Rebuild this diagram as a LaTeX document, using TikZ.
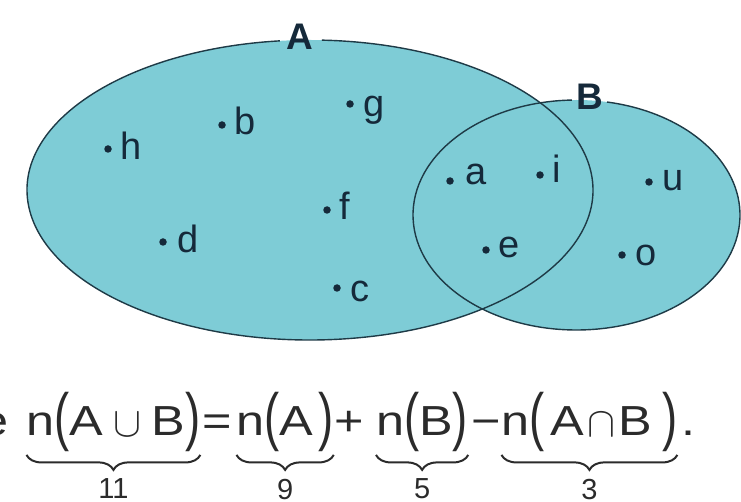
\documentclass[tikz,border=0pt]{standalone}
\usepackage{fontspec}
\setmainfont{Liberation Sans}
\newfontfamily\eqfont[FakeStretch=1.2]{Liberation Sans}
\usepackage{graphicx}
\usetikzlibrary{decorations.pathreplacing}

\definecolor{setfill}{HTML}{7ECCD6}
\definecolor{setline}{HTML}{1E3A46}
\definecolor{dotink}{HTML}{15293A}
\definecolor{eqink}{HTML}{2B2B2B}

\newcommand{\lpar}{\raisebox{-3.5pt}{\scalebox{0.9}[1.52]{(}}}
\newcommand{\rpar}{\raisebox{-3.5pt}{\scalebox{0.9}[1.52]{)}}}
\newcommand{\cupsym}{\raisebox{-1pt}{\scalebox{4.2}{\normalsize$\cup$}}}
\newcommand{\capsym}{\raisebox{-1pt}{\scalebox{4.2}{\normalsize$\cap$}}}

\begin{document}
\begin{tikzpicture}[
  x=1pt,
  y=1pt,
  setedge/.style={draw=setline, line width=1.4pt},
  setname/.style={font=\fontsize{37}{40}\selectfont\bfseries, text=dotink, inner sep=0, anchor=base},
  pt/.style={circle, fill=dotink, inner sep=0, minimum size=7.5pt},
  lbl/.style={font=\fontsize{38}{40}\selectfont, text=dotink, inner sep=0, anchor=base west},
  term/.style={font=\eqfont\fontsize{42}{44}\selectfont, text=eqink, inner sep=0, anchor=base west},
  brc/.style={decorate, decoration={brace, mirror, amplitude=15pt}, draw=eqink, line width=2pt},
  num/.style={font=\fontsize{29}{30}\selectfont, text=eqink, inner sep=0, anchor=north}
]
  \useasboundingbox (0,0) rectangle (741,-502);

  \coordinate (cA) at (310,-190);
  \coordinate (cB) at (576.5,-215);

  \fill[setfill] (cA) ellipse [x radius=283, y radius=150];
  \fill[setfill] (cB) ellipse [x radius=163.5, y radius=115];
  \draw[setedge] (cA) ++(96.1:283 and 150) arc [start angle=96.1, end angle=447.6, x radius=283, y radius=150];
  \draw[setedge] (cB) ++(91.6:163.5 and 115) arc [start angle=91.6, end angle=439.25, x radius=163.5, y radius=115];

  \node[setname] (nameA) at (300,-50) {A};
  \node[setname] (nameB) at (590,-110) {B};

  \node[pt] (h) at (108,-149) {};
  \node[pt] (b) at (222,-125) {};
  \node[pt] (g) at (350,-104) {};
  \node[pt] (f) at (327,-210) {};
  \node[pt] (d) at (163,-242) {};
  \node[pt] (c) at (337,-288) {};
  \node[pt] (a) at (450,-181) {};
  \node[pt] (i) at (540,-175) {};
  \node[pt] (e) at (486,-250) {};
  \node[pt] (u) at (649,-182) {};
  \node[pt] (o) at (622,-255) {};

  \node[lbl] (h-l) at (120.5,-160) {h};
  \node[lbl] (b-l) at (234.5,-135) {b};
  \node[lbl] (g-l) at (363.5,-117) {g};
  \node[lbl] (f-l) at (339,-220) {f};
  \node[lbl] (d-l) at (177,-253) {d};
  \node[lbl] (c-l) at (350.5,-302) {c};
  \node[lbl] (a-l) at (465.5,-185) {a};
  \node[lbl] (i-l) at (552.5,-183) {i};
  \node[lbl] (e-l) at (498.5,-258) {e};
  \node[lbl] (u-l) at (662.5,-191) {u};
  \node[lbl] (o-l) at (635.5,-266) {o};

  \node[term, anchor=base east] (pre) at (9,-435) {e};
  \node[term] (t1) at (26.5,-435) {n\lpar A\makebox[48pt]{\cupsym}B\rpar};
  \node[term] (eq) at (202.5,-435) {=};
  \node[term] (t2) at (236.5,-435) {n\lpar A\kern5pt\rpar};
  \node[term] (plus) at (334.5,-435) {+};
  \node[term] (t3) at (376,-435) {n\lpar B\rpar};
  \node[term] (minus) at (471.5,-435) {\textminus};
  \node[term] (t4) at (501.5,-435) {n\lpar\kern6pt A\makebox[34pt]{\capsym}B\kern10pt\rpar};
  \node[term] (stop) at (681,-435) {.};

  \draw[brc] ([yshift=-3pt]t1.south west) -- ([yshift=-3pt]t1.south east) node[num, midway, below=23pt] (n1) {11};
  \draw[brc] ([yshift=-3pt]t2.south west) -- ([yshift=-3pt]t2.south east) node[num, midway, below=23pt] (n2) {9};
  \draw[brc] ([yshift=-3pt]t3.south west) -- ([yshift=-3pt]t3.south east) node[num, midway, below=23pt] (n3) {5};
  \draw[brc] ([yshift=-3pt]t4.south west) -- ([yshift=-3pt]t4.south east) node[num, midway, below=23pt] (n4) {3};
\end{tikzpicture}
\end{document}
